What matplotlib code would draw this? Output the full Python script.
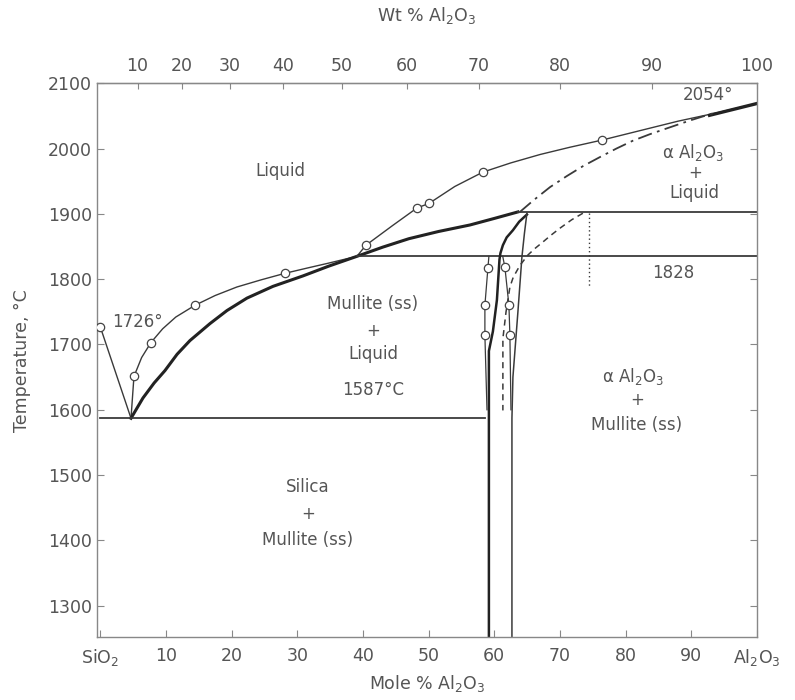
import numpy as np
import matplotlib
matplotlib.use("Agg")
import matplotlib.pyplot as plt

plt.rcParams['font.family'] = ['DejaVu Sans']

# liquidus of silica side (from 1726 deg melting point to eutectic)
silica_liq_x = [0, 4.68]
silica_liq_t = [1727, 1587]

# thin liquidus with experimental points (lower part and upper part)
liq_thin_lo_x = [4.68, 5.13, 6.3, 7.72, 9.5, 11.5, 14.42, 17.5, 20.8, 24.5, 28.13, 31.5, 34.52, 39.09]
liq_thin_lo_t = [1587, 1651, 1680, 1703, 1724, 1742, 1760, 1775, 1788, 1799, 1809, 1817, 1824, 1835]
liq_thin_hi_x = [39.09, 40.46, 44.5, 48.23, 50.06, 54.0, 58.28, 62.5, 67.0, 71.5, 76.40, 82.0, 88.0, 94.0, 100]
liq_thin_hi_t = [1835, 1852, 1882, 1909, 1916, 1942, 1964, 1978, 1991, 2002, 2013, 2027, 2042, 2055, 2069]

# experimental points (open circles)
pts_x = [0, 5.13, 7.72, 14.42, 28.13, 40.46, 48.23, 50.06, 58.28, 76.40]
pts_t = [1727, 1651, 1703, 1760, 1809, 1852, 1909, 1916, 1964, 2013]

# heavy liquidus
liq_thick_x = [4.68, 6.5, 8.2, 9.85, 11.7, 13.66, 16.71, 19.3, 22.34, 26.3, 30.87, 34.8, 39.09,
               43.0, 47.0, 51.5, 56.30, 60.0, 63.61]
liq_thick_t = [1587, 1618, 1641, 1660, 1685, 1706, 1732, 1752, 1771, 1789, 1805, 1820, 1835,
               1849, 1862, 1873, 1883, 1893, 1903]
liq_top_x = [92.8, 100]
liq_top_t = [2051, 2069]

# dash-dot (metastable) liquidus
liq_meta_x = [63.91, 66.0, 68.5, 71.07, 73.5, 76.1, 78.6, 81.1, 83.7, 86.3, 89.8, 93.3]
liq_meta_t = [1903, 1921, 1941, 1958, 1973, 1987, 2000, 2012, 2022, 2031, 2043, 2054]

# isotherms
eut_x, eut_t = [0, 58.58], 1587
per_x, per_t = [39.09, 100], 1835
upper_x, upper_t = [63.61, 100], 1903

# mullite solid solution boundaries
mul_left_x = [64.98, 63.8, 62.85, 61.9, 61.32, 60.95, 60.8, 60.41, 59.8, 59.19, 59.19]
mul_left_t = [1899, 1888, 1875, 1864, 1852, 1840, 1830, 1768, 1720, 1690, 1252]
mul_right_x = [64.98, 64.6, 64.22, 63.61, 62.85, 62.70, 62.70]
mul_right_t = [1901, 1870, 1834, 1750, 1650, 1587, 1252]
mul_pl_x = [59.19, 59.04, 58.58, 58.58, 58.9]
mul_pl_t = [1835, 1817, 1760, 1714, 1600]
mul_pr_x = [61.3, 61.63, 62.24, 62.39, 62.55]
mul_pr_t = [1835, 1818, 1760, 1714, 1600]
mul_pts_x = [59.04, 58.58, 58.58, 61.63, 62.24, 62.39]
mul_pts_t = [1817, 1760, 1714, 1818, 1760, 1714]

# dashed boundary and dotted line
dash_x = [73.5, 71.8, 70.0, 68.6, 67.42, 66.2, 65.13, 63.91, 62.9, 62.39, 61.8, 61.32, 61.32]
dash_t = [1901, 1891, 1878, 1867, 1857, 1847, 1837, 1821, 1803, 1788, 1750, 1709, 1599]
dot_x = [74.42, 74.42]
dot_t = [1901, 1788]

mole_ticks = [0, 10, 20, 30, 40, 50, 60, 70, 80, 90, 100]
mole_labels = ['SiO$_2$', '10', '20', '30', '40', '50', '60', '70', '80', '90', 'Al$_2$O$_3$']
temp_ticks = [1300, 1400, 1500, 1600, 1700, 1800, 1900, 2000, 2100]
wt_ticks = [10, 20, 30, 40, 50, 60, 70, 80, 90, 100]

M_AL, M_SI = 101.96, 60.08


def mol2wt(m):
    m = np.clip(np.asarray(m, dtype=float), 0, 100)
    return 100 * m * M_AL / (m * M_AL + (100 - m) * M_SI)


def wt2mol(w):
    w = np.clip(np.asarray(w, dtype=float), 0, 100)
    return 100 * (w / M_AL) / (w / M_AL + (100 - w) / M_SI)


txt = '#555555'
ln = '#3a3a3a'

fig = plt.figure(figsize=(7.95, 7.0), dpi=100)
ax = fig.add_axes([0.122, 0.09, 0.830, 0.791])

ax.plot(silica_liq_x, silica_liq_t, color=ln, lw=1.0)
ax.plot(liq_thin_lo_x, liq_thin_lo_t, color=ln, lw=1.0)
ax.plot(liq_thin_hi_x, liq_thin_hi_t, color=ln, lw=1.0)
ax.plot(liq_thick_x, liq_thick_t, color='#222222', lw=2.2)
ax.plot(liq_top_x, liq_top_t, color='#222222', lw=2.4)
ax.plot(liq_meta_x, liq_meta_t, color=ln, lw=1.3, ls=(0, (8, 3, 1.5, 3)))

ax.plot(eut_x, [eut_t, eut_t], color=ln, lw=1.3)
ax.plot(per_x, [per_t, per_t], color=ln, lw=1.3)
ax.plot(upper_x, [upper_t, upper_t], color=ln, lw=1.3)

ax.plot(mul_left_x, mul_left_t, color='#222222', lw=1.8)
ax.plot(mul_right_x, mul_right_t, color=ln, lw=1.1)
ax.plot(mul_pl_x, mul_pl_t, color=ln, lw=0.9)
ax.plot(mul_pr_x, mul_pr_t, color=ln, lw=0.9)
ax.plot(dash_x, dash_t, color=ln, lw=1.1, ls=(0, (4, 3)))
ax.plot(dot_x, dot_t, color=ln, lw=1.0, ls=(0, (1, 2)))

ax.plot(pts_x, pts_t, 'o', ms=6, mfc='white', mec='#444444', mew=0.9, ls='none', zorder=5)
ax.plot(mul_pts_x, mul_pts_t, 'o', ms=6, mfc='white', mec='#444444', mew=0.9, ls='none', zorder=5)

fs = 12
kw = dict(color=txt, fontsize=fs, ha='center', va='center')
ax.text(27.37, 1966, 'Liquid', **kw)
ax.text(41.53, 1762, 'Mullite (ss)', **kw)
ax.text(41.53, 1721, '+', **kw)
ax.text(41.53, 1685, 'Liquid', **kw)
ax.text(41.53, 1630, '1587°C', **kw)
ax.text(31.63, 1481, 'Silica', **kw)
ax.text(31.63, 1440, '+', **kw)
ax.text(31.63, 1400, 'Mullite (ss)', **kw)
ax.text(81.12, 1651, 'α Al$_2$O$_3$', **kw)
ax.text(81.73, 1615, '+', **kw)
ax.text(81.73, 1576, 'Mullite (ss)', **kw)
ax.text(90.26, 1994, 'α Al$_2$O$_3$', **kw)
ax.text(90.56, 1962, '+', **kw)
ax.text(90.56, 1932, 'Liquid', **kw)
ax.text(92.54, 2082, '2054°', **kw)
ax.text(87.21, 1809, '1828', **kw)
ax.text(5.6, 1734, '1726°', **kw)

ax.set_xlim(-0.5, 100)
ax.set_ylim(1252, 2100)
ax.set_xticks(mole_ticks)
ax.set_xticklabels(mole_labels)
ax.set_yticks(temp_ticks)
ax.tick_params(direction='in', length=5, width=0.8, colors='#888888',
               labelcolor=txt, labelsize=12.5, right=True)
ax.tick_params(axis='x', pad=7)
ax.set_xlabel('Mole % Al$_2$O$_3$', color=txt, fontsize=12.5, labelpad=4)
ax.set_ylabel('Temperature, °C', color=txt, fontsize=12.5, labelpad=12)
for s in ax.spines.values():
    s.set_color('#888888')
    s.set_linewidth(1.0)

top = ax.secondary_xaxis('top', functions=(mol2wt, wt2mol))
top.set_xticks(wt_ticks)
top.tick_params(direction='in', length=4, colors='#888888', labelcolor=txt, labelsize=12.5, pad=6)
top.set_xlabel('Wt % Al$_2$O$_3$', color=txt, fontsize=12.5, labelpad=26)

fig.savefig('out.png', dpi=100, facecolor='white')
